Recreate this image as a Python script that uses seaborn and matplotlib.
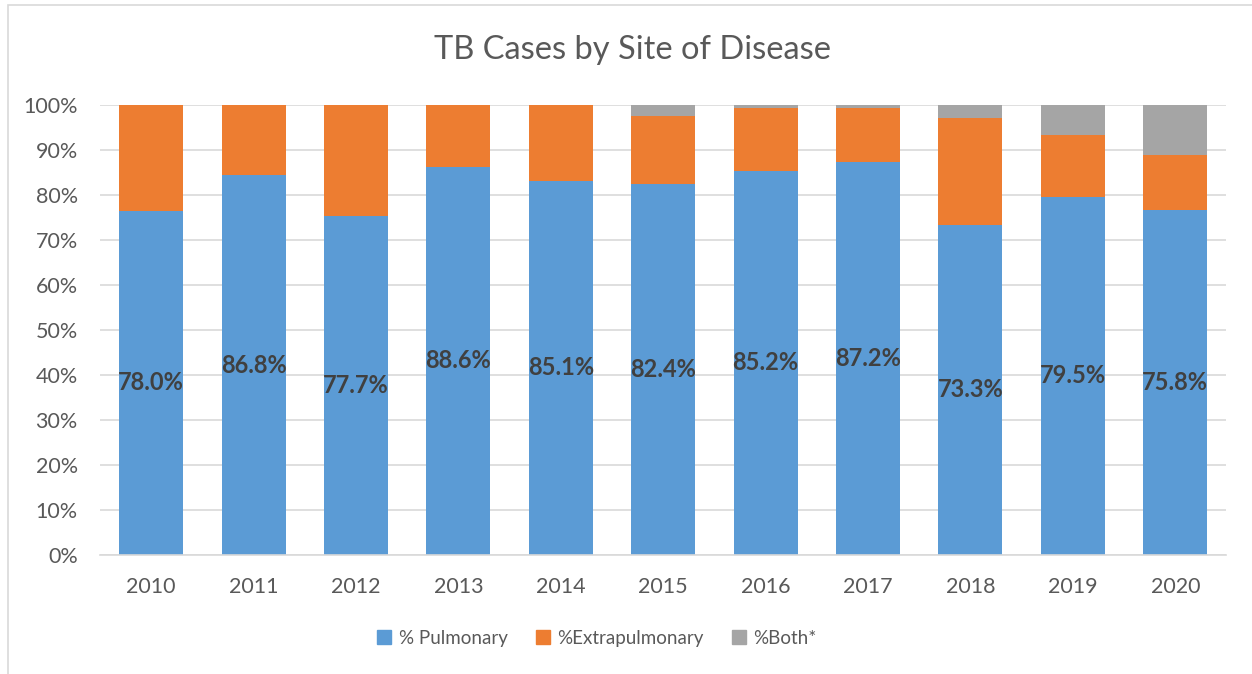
import matplotlib
matplotlib.use("Agg")
import matplotlib.pyplot as plt
import matplotlib.patches as mpatches
import seaborn as sns
import numpy as np
import pandas as pd

# Data (raw percentages, as entered in the source workbook)
years = ['2010', '2011', '2012', '2013', '2014', '2015', '2016', '2017', '2018', '2019', '2020']
pulmonary = [78.0, 86.8, 77.7, 88.6, 85.1, 82.4, 85.2, 87.2, 73.3, 79.5, 75.8]
extrapulmonary = [24.1, 16.2, 25.6, 14.3, 17.4, 15.2, 14.0, 12.1, 23.8, 13.7, 12.2]
both = [0.0, 0.0, 0.0, 0.0, 0.0, 2.5, 0.8, 0.7, 2.9, 6.8, 11.1]

series_names = ['% Pulmonary', '%Extrapulmonary', '%Both*']
colors = ['#5B9BD5', '#ED7D31', '#A5A5A5']

# 100% stacked: normalise each year to its total
df = pd.DataFrame({'year': years, 'pul': pulmonary, 'ext': extrapulmonary, 'both': both})
total = df['pul'] + df['ext'] + df['both']
df['c_pul'] = df['pul'] / total * 100
df['c_ext'] = (df['pul'] + df['ext']) / total * 100
df['c_all'] = (df['pul'] + df['ext'] + df['both']) / total * 100

sns.set_style('white')
plt.rcParams['font.family'] = ['Lato', 'DejaVu Sans']

fig = plt.figure(figsize=(12.52, 6.74), dpi=100)
ax = fig.add_axes([0.0799, 0.177, 0.8997, 0.6677])

# draw cumulative heights back to front
sns.barplot(data=df, x='year', y='c_all', color=colors[2], saturation=1, width=0.625, linewidth=0, ax=ax)
sns.barplot(data=df, x='year', y='c_ext', color=colors[1], saturation=1, width=0.625, linewidth=0, ax=ax)
sns.barplot(data=df, x='year', y='c_pul', color=colors[0], saturation=1, width=0.625, linewidth=0, ax=ax)

# data labels on the pulmonary segment
ax.bar_label(ax.containers[2], labels=[f'{v:.1f}%' for v in pulmonary], label_type='center',
             fontsize=17, fontweight='bold', color='#404040')

ax.set_ylim(0, 100)
ax.set_xlim(-0.5, len(years) - 0.5)
ax.set_yticks(np.arange(0, 101, 10))
ax.set_yticklabels([f'{t}%' for t in range(0, 101, 10)])
ax.yaxis.grid(True, color='#d9d9d9', linewidth=1.2)
ax.set_axisbelow(True)
for s in ['top', 'right', 'left']:
    ax.spines[s].set_visible(False)
ax.spines['bottom'].set_color('#d9d9d9')
ax.spines['bottom'].set_linewidth(1.2)
ax.tick_params(axis='both', length=0, labelsize=15.5, colors='#595959')
ax.tick_params(axis='y', pad=16)
ax.tick_params(axis='x', pad=16)
ax.set_xlabel('')
ax.set_ylabel('')

fig.text(0.505, 0.926, 'TB Cases by Site of Disease', ha='center', va='center',
         fontsize=23.5, color='#595959')

handles = [mpatches.Patch(color=c, label=n) for c, n in zip(colors, series_names)]
fig.legend(handles=handles, loc='center', bbox_to_anchor=(0.477, 0.053), ncol=3, frameon=False,
           fontsize=13.5, labelcolor='#595959', handlelength=0.75, handleheight=0.75,
           handletextpad=0.4, columnspacing=1.5)

# chart area border
fig.patches.append(mpatches.Rectangle((0.0064, -0.01), 1.1, 1.003, transform=fig.transFigure,
                                      fill=False, edgecolor='#d9d9d9', linewidth=1.2))

plt.savefig('out.png', dpi=100)
